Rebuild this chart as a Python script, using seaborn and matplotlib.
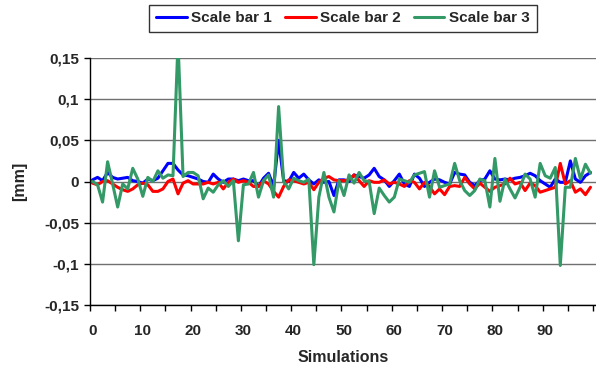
import numpy as np
import pandas as pd
import matplotlib
matplotlib.use("Agg")
import matplotlib.pyplot as plt
import seaborn as sns

# ---- data ----
simulations = list(range(100))

scale_bar_1 = [
    0.002, 0.005, 0.001, 0.011, 0.005, 0.003, 0.004, 0.005, 0.001, 0.000,
    -0.002, 0.003, 0.001, 0.004, 0.013, 0.022, 0.022, 0.014, 0.008, 0.007,
    0.005, 0.003, 0.000, -0.001, 0.009, 0.003, -0.001, 0.003, 0.003, 0.001,
    0.003, 0.001, 0.001, -0.006, 0.004, 0.010, -0.006, 0.050, 0.001, 0.000,
    0.011, 0.004, 0.009, 0.002, -0.003, 0.002, -0.001, 0.000, -0.017, 0.002,
    0.002, 0.000, 0.008, 0.006, 0.004, 0.008, 0.016, 0.006, 0.002, -0.006,
    0.001, 0.009, -0.003, -0.006, 0.009, 0.004, -0.006, -0.001, 0.003, 0.002,
    -0.001, -0.003, 0.011, 0.009, 0.008, -0.001, -0.005, 0.001, 0.003, 0.013,
    0.003, 0.002, 0.003, 0.002, 0.004, 0.005, 0.007, 0.010, 0.007, 0.001,
    -0.003, -0.007, 0.003, -0.001, -0.001, 0.025, 0.003, -0.001, 0.007, 0.011,
]

scale_bar_2 = [
    -0.002, -0.004, 0.000, 0.001, -0.003, -0.007, -0.010, -0.012, -0.009, -0.004,
    -0.002, -0.004, -0.012, -0.012, -0.009, 0.000, 0.003, -0.015, -0.002, 0.001,
    -0.003, -0.003, -0.003, -0.001, -0.003, -0.001, -0.009, -0.001, 0.003, -0.001,
    0.001, -0.001, -0.006, -0.006, 0.001, -0.003, -0.012, -0.019, -0.006, 0.002,
    0.001, -0.001, -0.003, -0.001, -0.010, -0.001, 0.004, 0.006, 0.002, 0.001,
    0.001, 0.002, 0.008, 0.001, -0.006, 0.001, -0.001, -0.001, 0.002, -0.003,
    -0.001, -0.003, -0.006, 0.001, -0.001, -0.009, -0.001, -0.006, -0.015, -0.009,
    -0.016, -0.006, -0.005, -0.006, 0.005, -0.003, -0.009, -0.002, -0.007, -0.012,
    -0.007, -0.005, -0.003, 0.004, -0.003, -0.001, -0.011, -0.002, -0.005, -0.013,
    -0.011, -0.009, -0.007, 0.022, -0.003, 0.001, -0.013, -0.009, -0.016, -0.007,
]

scale_bar_3 = [
    0.000, -0.004, -0.025, 0.024, -0.003, -0.031, -0.003, -0.009, 0.016, 0.003,
    -0.018, 0.005, 0.000, 0.013, 0.004, 0.008, 0.007, 0.170, 0.006, 0.011,
    0.011, 0.007, -0.021, -0.008, -0.013, -0.004, 0.001, -0.006, 0.001, -0.072,
    -0.004, -0.003, 0.011, -0.019, 0.001, 0.008, -0.019, 0.091, 0.000, -0.009,
    0.004, 0.001, -0.001, 0.003, -0.101, -0.019, 0.011, -0.019, -0.037, 0.001,
    -0.017, 0.008, -0.002, 0.011, 0.001, 0.000, -0.039, -0.008, -0.017, -0.025,
    -0.019, 0.003, 0.001, -0.001, 0.008, 0.010, 0.012, -0.019, 0.013, -0.007,
    -0.005, -0.003, 0.022, 0.001, -0.011, -0.017, -0.011, 0.003, 0.001, -0.031,
    0.028, -0.024, 0.003, -0.009, -0.020, -0.007, 0.009, 0.003, -0.019, 0.022,
    0.007, 0.004, 0.017, -0.102, -0.007, -0.007, 0.028, 0.003, 0.021, 0.010,
]

series_names = ["Scale bar 1", "Scale bar 2", "Scale bar 3"]
series_colors = ["#0000FF", "#FF0000", "#339966"]

y_ticks = [-0.15, -0.1, -0.05, 0, 0.05, 0.1, 0.15]
y_tick_labels = ["-0,15", "-0,1", "-0,05", "0", "0,05", "0,1", "0,15"]
x_label_ticks = [0, 10, 20, 30, 40, 50, 60, 70, 80, 90]

# ---- build long table ----
df = pd.DataFrame({
    "Simulations": simulations * 3,
    "value": scale_bar_1 + scale_bar_2 + scale_bar_3,
    "series": sum([[n] * len(simulations) for n in series_names], []),
})

sns.set_style("white")
plt.rcParams["font.family"] = ["Liberation Sans", "DejaVu Sans"]
plt.rcParams["font.weight"] = "bold"

W, H = 596, 370
fig = plt.figure(figsize=(W / 100, H / 100), dpi=100)
ax = fig.add_axes([90 / W, 65 / H, (596 - 90) / W, (305 - 58) / H])

sns.lineplot(data=df, x="Simulations", y="value", hue="series",
             palette=dict(zip(series_names, series_colors)),
             linewidth=2.2, ax=ax, legend=False, estimator=None)

ax.set_xlim(-0.5, 100.1)
ax.set_ylim(-0.15, 0.15)
ax.set_yticks(y_ticks)
ax.set_yticklabels(y_tick_labels, fontsize=11, fontweight="bold")
ax.set_xticks(x_label_ticks)
ax.set_xticklabels([str(v) for v in x_label_ticks], fontsize=11, fontweight="bold")
ax.set_xticks(np.arange(-0.5, 100, 5), minor=True)
ax.tick_params(axis="x", which="major", length=0, pad=14)
ax.tick_params(axis="x", which="minor", length=4, width=1, direction="out", color="black", bottom=True)
ax.tick_params(axis="y", which="major", length=4, width=1, direction="out", color="black", left=True, pad=4)

ax.grid(axis="y", color="#707070", linewidth=1)
ax.grid(axis="x", visible=False)
for side in ["top", "right"]:
    ax.spines[side].set_visible(False)
for side in ["left", "bottom"]:
    ax.spines[side].set_color("black")
    ax.spines[side].set_linewidth(1)

ax.set_xlabel("Simulations", fontsize=11.5, fontweight="bold", labelpad=8)
ax.set_ylabel("[mm]", fontsize=11.5, fontweight="bold", labelpad=12)

handles = [plt.Line2D([], [], color=c, linewidth=2.2) for c in series_colors]
leg = fig.legend(handles, series_names, loc="center", ncol=3,
                 bbox_to_anchor=(343 / W, 1 - 18.5 / H), frameon=True, fancybox=False,
                 edgecolor="black", prop={"weight": "bold", "size": 11},
                 handlelength=2.0, handletextpad=0.3, columnspacing=0.85,
                 borderpad=0.45)
leg.get_frame().set_linewidth(1)

fig.savefig("out.png", dpi=100)
